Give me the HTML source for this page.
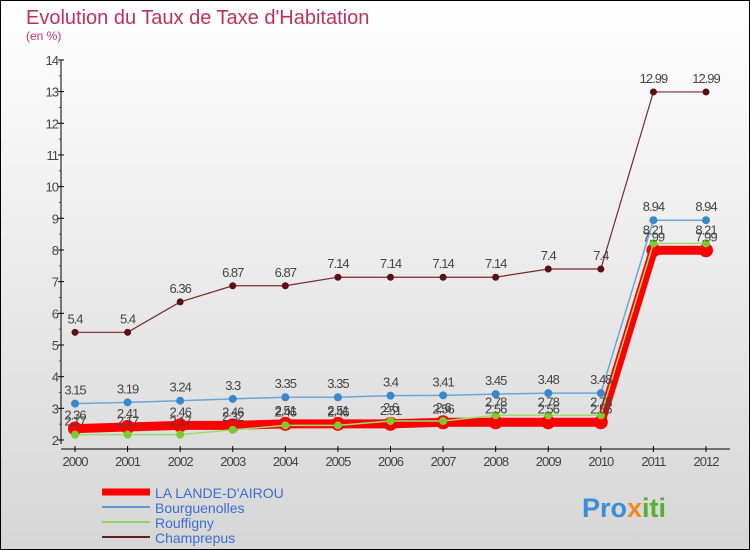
<!DOCTYPE html>
<html><head><meta charset="utf-8"><style>
body{margin:0;width:750px;height:550px;overflow:hidden;font-family:"Liberation Sans",sans-serif}
svg{display:block}
</style></head><body>
<svg id="c" width="750" height="550" xmlns="http://www.w3.org/2000/svg">
<defs><linearGradient id="bg" x1="0" y1="0" x2="0" y2="1"><stop offset="0" stop-color="#ffffff"/><stop offset="1" stop-color="#d6d6d6"/></linearGradient></defs>
<rect x="0.5" y="0.5" width="749" height="549" fill="url(#bg)" stroke="#000"/>
<text x="26" y="24" font-size="20" fill="#c0305f">Evolution du Taux de Taxe d'Habitation</text>
<text x="26" y="40" font-size="12" fill="#c0305f">(en %)</text>
<g id="axes"></g><g id="series"></g><g id="labels"></g>
<g>
<line x1="102" y1="492" x2="150" y2="492" stroke="#f00" stroke-width="7"/>
<text x="155" y="498" font-size="14" fill="#3a6fd0">LA LANDE-D'AIROU</text>
<line x1="102" y1="507" x2="150" y2="507" stroke="#5b9bd5" stroke-width="2"/>
<text x="155" y="513" font-size="14" fill="#3a6fd0">Bourguenolles</text>
<line x1="102" y1="522" x2="150" y2="522" stroke="#8fd860" stroke-width="2"/>
<text x="155" y="528" font-size="14" fill="#3a6fd0">Rouffigny</text>
<line x1="102" y1="537" x2="150" y2="537" stroke="#6b1a1a" stroke-width="2"/>
<text x="155" y="543" font-size="14" fill="#3a6fd0">Champrepus</text>
</g>
<text x="582" y="517" font-size="27" font-weight="bold" fill="#3a8fd8">Pro<tspan fill="#f08a1c">x</tspan><tspan fill="#58b030">iti</tspan></text>
</svg>
<script>
const years=[2000,2001,2002,2003,2004,2005,2006,2007,2008,2009,2010,2011,2012];
const yTicks=[2,3,4,5,6,7,8,9,10,11,12,13,14];
const lande=[2.36,2.41,2.46,2.46,2.51,2.51,2.51,2.56,2.56,2.56,2.56,7.99,7.99];
const bourg=[3.15,3.19,3.24,3.3,3.35,3.35,3.4,3.41,3.45,3.48,3.48,8.94,8.94];
const rouff=[2.17,2.17,2.17,2.32,2.46,2.46,2.6,2.6,2.78,2.78,2.78,8.21,8.21];
const champ=[5.4,5.4,6.36,6.87,6.87,7.14,7.14,7.14,7.14,7.4,7.4,12.99,12.99];
const NS="http://www.w3.org/2000/svg";
const X=i=>75+i*(631/12);
const Y=v=>440-(v-2)*31.67;
function mk(t,a,p){const e=document.createElementNS(NS,t);for(const k in a)e.setAttribute(k,a[k]);p.appendChild(e);return e;}
const ax=document.getElementById('axes');
let l=mk('line',{x1:61,y1:60,x2:61,y2:444,stroke:'#000'},ax);


l=mk('line',{x1:61,y1:449,x2:730,y2:449,stroke:'#000'},ax);


yTicks.forEach(v=>{
 mk('line',{x1:58,y1:Y(v),x2:64,y2:Y(v),stroke:'#000'},ax);
 if(v<14)mk('line',{x1:59,y1:Y(v+0.5),x2:61,y2:Y(v+0.5),stroke:'#f00'},ax);
 const t=mk('text',{x:58,y:Y(v)+5,'font-size':13,'text-anchor':'end',fill:'#444','letter-spacing':'-1'},ax);
 t.textContent=v;
 
 
});
years.forEach((y,i)=>{
 mk('line',{x1:X(i),y1:446,x2:X(i),y2:452,stroke:'#000'},ax);
 const t=mk('text',{x:X(i),y:466,'font-size':13,'text-anchor':'middle',fill:'#444','letter-spacing':'-1'},ax);
 t.textContent=y;
 
 
});
const sg=document.getElementById('series'),lg=document.getElementById('labels');
function draw(d,name,col,w,r,mc){
 const g=mk('g',{},sg);
 
 
 const p=mk('polyline',{points:d.map((v,i)=>X(i)+','+Y(v)).join(' '),fill:'none',stroke:col,'stroke-width':w},g);
 
 
 d.forEach((v,i)=>{
  const c=mk('circle',{cx:X(i),cy:Y(v),r:r,fill:mc},g);
  
  
  const t=mk('text',{x:X(i),y:Y(v)-9,'font-size':13,'text-anchor':'middle',fill:'#444','letter-spacing':'-1'},lg);
  t.textContent=v;
  
  
 });
}
draw(champ,'champrepus','#7a2a2a',1.2,3.5,'#5a1010');
draw(bourg,'bourguenolles','#6aa6d8',1.5,4,'#3a88cc');
draw(lande,'lande-airou','#f00',9,7,'#f00');
draw(rouff,'rouffigny','#9adc70',1.5,4,'#7ccc30');
</script>
</body></html>
